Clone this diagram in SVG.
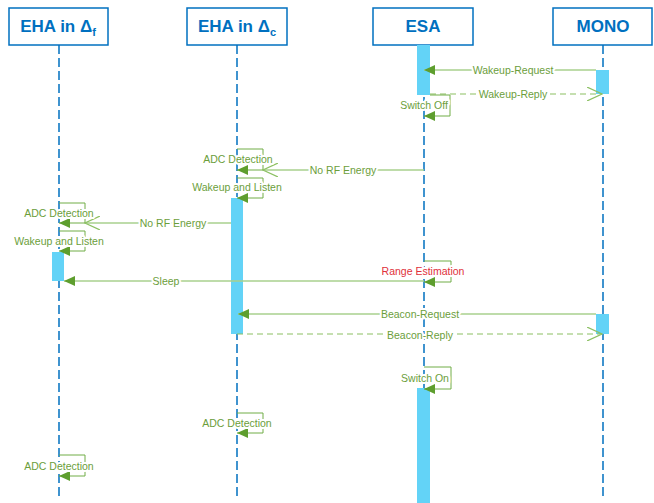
<svg xmlns="http://www.w3.org/2000/svg" width="654" height="503" viewBox="0 0 654 503">
<style>
.hdr{fill:#fff;stroke:#0070C0;stroke-width:1.5}
.ht{font-family:"Liberation Sans",Arial,sans-serif;font-weight:bold;font-size:17px;fill:#0070C0;text-anchor:middle}
.life{stroke:#0070C0;stroke-width:1.5;stroke-dasharray:9 4;fill:none}
.bar{fill:#63D3F7}
.msg{stroke:#A9D18E;stroke-width:1.5;fill:none}
.rep{stroke:#8CC063;stroke-width:1.2;stroke-dasharray:6 4;fill:none}
.loop{stroke:#70AD47;stroke-width:1;fill:none}
.lbl{font-family:"Liberation Sans",Arial,sans-serif;font-size:10.5px;fill:#6B9E3B;text-anchor:middle;paint-order:stroke;stroke:#fff;stroke-width:4px;stroke-linejoin:round}
.red{fill:#E0303A}
</style>
<defs>
<marker id="fa" markerUnits="userSpaceOnUse" markerWidth="12" markerHeight="11" refX="11" refY="5" orient="auto">
<path d="M0,0 L11,5 L0,10 z" fill="#5E9E2E"/>
</marker>
<marker id="oa" markerUnits="userSpaceOnUse" markerWidth="16" markerHeight="14" refX="15" refY="7" orient="auto">
<path d="M0,0 L15,7 L0,14" fill="none" stroke="#8CC063" stroke-width="1.2"/>
</marker>
</defs>

<g id="lifelines">
<line class="life" x1="59" y1="45" x2="59" y2="500"/>
<line class="life" x1="237" y1="45" x2="237" y2="500"/>
<line class="life" x1="424" y1="45" x2="424" y2="500"/>
<line class="life" x1="603" y1="45" x2="603" y2="500"/>
</g>

<g id="node-eha-f"><rect class="hdr" x="9" y="8" width="99" height="37"/><text class="ht" x="58" y="32">EHA in Δ<tspan font-size="11" dy="4">f</tspan></text></g>
<g id="node-eha-c"><rect class="hdr" x="187" y="8" width="100" height="37"/><text class="ht" x="237" y="32">EHA in Δ<tspan font-size="11" dy="4">c</tspan></text></g>
<g id="node-esa"><rect class="hdr" x="373" y="8" width="100" height="37"/><text class="ht" x="423" y="32">ESA</text></g>
<g id="node-mono"><rect class="hdr" x="553" y="8" width="99" height="37"/><text class="ht" x="603" y="32">MONO</text></g>

<g id="activations">
<rect class="bar" x="417" y="45" width="13" height="50"/>
<rect class="bar" x="596" y="70" width="13" height="24"/>
<rect class="bar" x="231" y="198" width="12" height="136"/>
<rect class="bar" x="52" y="252" width="12" height="29"/>
<rect class="bar" x="596" y="314" width="13" height="20"/>
<rect class="bar" x="417" y="388" width="13" height="115"/>
</g>

<g id="connectors">
<line class="msg" x1="596" y1="70" x2="424" y2="70" marker-end="url(#fa)"/>
<line class="rep" x1="430" y1="94" x2="602" y2="94" marker-end="url(#oa)"/>
<polyline class="loop" points="430,95 450,95 450,116 424,116" marker-end="url(#fa)"/>
<polyline class="loop" points="237,149 263,149 263,170 237,170" marker-end="url(#fa)"/>
<line class="msg" x1="424" y1="170" x2="263" y2="170" marker-end="url(#oa)"/>
<polyline class="loop" points="237,178 263,178 263,198 237,198" marker-end="url(#fa)"/>
<polyline class="loop" points="59,203 85,203 85,223 59,223" marker-end="url(#fa)"/>
<line class="msg" x1="231" y1="223" x2="85" y2="223" marker-end="url(#oa)"/>
<polyline class="loop" points="59,231 85,231 85,251 59,251" marker-end="url(#fa)"/>
<polyline class="loop" points="424,261 451,261 451,282 424,282" marker-end="url(#fa)"/>
<line class="msg" x1="424" y1="281" x2="64" y2="281" marker-end="url(#fa)"/>
<line class="msg" x1="596" y1="314" x2="238" y2="314" marker-end="url(#fa)"/>
<line class="rep" x1="237" y1="334" x2="602" y2="334" marker-end="url(#oa)"/>
<polyline class="loop" points="424,367 451,367 451,389 424,389" marker-end="url(#fa)"/>
<polyline class="loop" points="237,413 263,413 263,433 237,433" marker-end="url(#fa)"/>
<polyline class="loop" points="59,455 85,455 85,476 59,476" marker-end="url(#fa)"/>
</g>

<g id="labels">
<text class="lbl" x="513" y="74">Wakeup-Request</text>
<text class="lbl" x="513" y="98">Wakeup-Reply</text>
<text class="lbl" x="424" y="109">Switch Off</text>
<text class="lbl" x="238" y="163">ADC Detection</text>
<text class="lbl" x="343" y="174">No RF Energy</text>
<text class="lbl" x="237" y="191">Wakeup and Listen</text>
<text class="lbl" x="59" y="217">ADC Detection</text>
<text class="lbl" x="173" y="227">No RF Energy</text>
<text class="lbl" x="59" y="245">Wakeup and Listen</text>
<text class="lbl red" x="423" y="275">Range Estimation</text>
<text class="lbl" x="166" y="285">Sleep</text>
<text class="lbl" x="420" y="318">Beacon-Request</text>
<text class="lbl" x="420" y="339">Beacon-Reply</text>
<text class="lbl" x="425" y="382">Switch On</text>
<text class="lbl" x="237" y="427">ADC Detection</text>
<text class="lbl" x="59" y="470">ADC Detection</text>
</g>
</svg>
